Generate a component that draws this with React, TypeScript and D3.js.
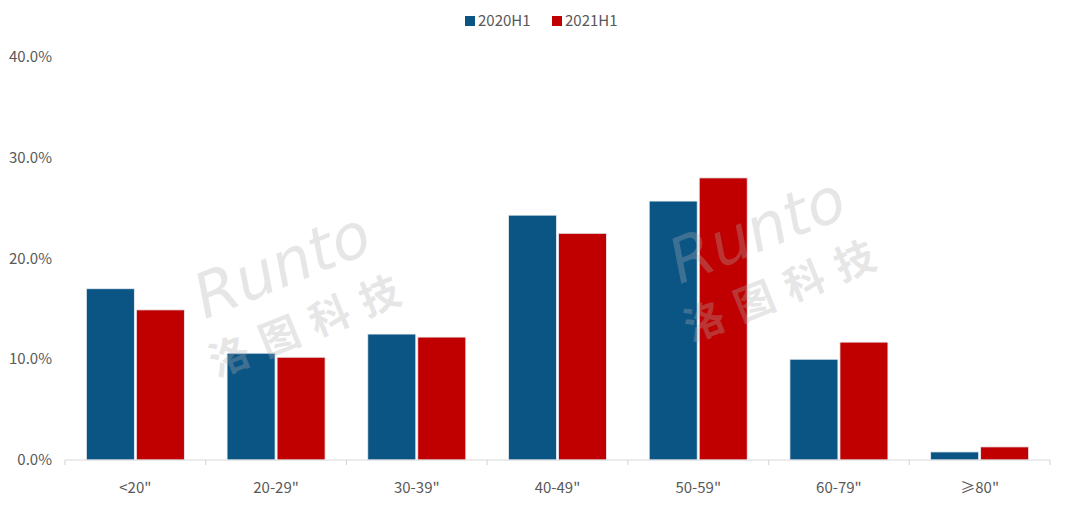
import React from "react";
import * as d3 from "d3";

const categories = ["<20\"", "20-29\"", "30-39\"", "40-49\"", "50-59\"", "60-79\"", "≥80\""];
const series2020 = [17.0, 10.6, 12.5, 24.3, 25.7, 10.0, 0.8];
const series2021 = [14.9, 10.2, 12.2, 22.5, 28.0, 11.7, 1.3];
const seriesNames = ["2020H1", "2021H1"];
const yTicks = [0, 10, 20, 30, 40];
const colors = ["#0b5585", "#c00000"];

export default function App() {
  const W = 1080, H = 512;
  const left = 65, right = 1050, top = 57, bottom = 460;
  const x = d3.scaleBand<string>().domain(categories).range([left, right]).paddingInner(0).paddingOuter(0);
  const y = d3.scaleLinear().domain([0, 40]).range([bottom, top]);
  const inner = d3.scaleBand<string>().domain(seriesNames).range([0, x.bandwidth()]).paddingOuter(0.427).paddingInner(0.04);
  const data = [series2020, series2021];
  const font = "'Noto Sans CJK SC', 'Noto Sans', sans-serif";
  const boundaries = categories.map((c) => x(c)!).concat([right]);
  return (
    <svg width={W} height={H} style={{ position: "absolute", left: 0, top: 0, background: "#fff" }}>
      <rect x={0} y={0} width={W} height={H} fill="#fff" />
      {/* y tick labels */}
      {yTicks.map((t) => (
        <text key={t} x={52} y={y(t) + 5} textAnchor="end" fontSize={15} fill="#595959" fontFamily={font}>
          {t.toFixed(1) + "%"}
        </text>
      ))}
      {/* bars */}
      {seriesNames.map((s, si) =>
        categories.map((c, ci) => {
          const v = data[si][ci];
          return (
            <rect key={s + c} x={x(c)! + inner(s)!} y={y(v)} width={inner.bandwidth()} height={bottom - y(v)}
              fill={colors[si]} stroke="#e8eef3" strokeWidth={0.8} />
          );
        })
      )}
      {/* axis */}
      <line x1={left} x2={right} y1={bottom} y2={bottom} stroke="#d9d9d9" strokeWidth={1.2} />
      {boundaries.map((b, i) => (
        <line key={i} x1={b} x2={b} y1={bottom} y2={bottom + 5} stroke="#d9d9d9" strokeWidth={1.2} />
      ))}
      {categories.map((c) => (
        <text key={c} x={x(c)! + x.bandwidth() / 2} y={493} textAnchor="middle" fontSize={15} fill="#595959" fontFamily={font}>
          {c}
        </text>
      ))}
      {/* watermarks */}
      {[[290, 285], [765, 250]].map(([cx, cy], i) => (
        <g key={i} transform={`translate(${cx},${cy}) rotate(-22)`} opacity={0.3}>
          <text x={0} y={0} textAnchor="middle" fontSize={62} fill="#b0b0b0" fontFamily="'DejaVu Sans', sans-serif" fontStyle="italic" fontWeight={300}>
            Runto
          </text>
          <text x={5} y={58} textAnchor="middle" fontSize={40} fill="#b0b0b0" fontFamily={font} fontWeight={700} letterSpacing={14}>
            洛图科技
          </text>
        </g>
      ))}
      {/* legend */}
      {seriesNames.map((s, i) => (
        <g key={s} transform={`translate(${465 + i * 87},16)`}>
          <rect x={0} y={0} width={10} height={10} fill={colors[i]} />
          <text x={13} y={10} fontSize={15} fill="#595959" fontFamily={font}>{s}</text>
        </g>
      ))}
    </svg>
  );
}
